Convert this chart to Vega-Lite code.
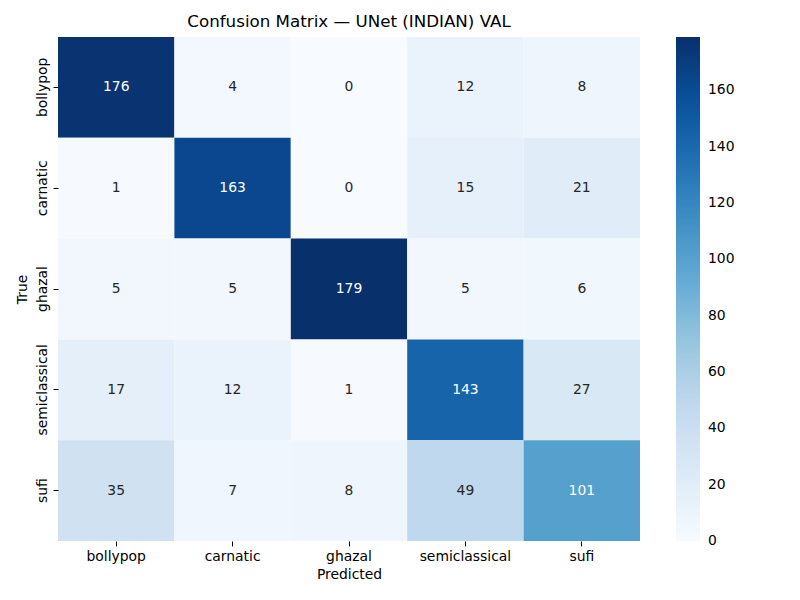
{
  "$schema": "https://vega.github.io/schema/vega-lite/v6.json",
  "autosize": {"type": "none"},
  "padding": {"left": 58, "top": 37, "right": 160, "bottom": 59},
  "width": 582,
  "height": 504,
  "background": "white",
  "title": {"text": "Confusion Matrix — UNet (INDIAN) VAL", "font": "DejaVu Sans", "fontSize": 16.7, "fontWeight": "normal", "color": "black", "offset": 6},
  "config": {"view": {"stroke": null}, "font": "DejaVu Sans"},
  "data": {"values": [
    {"t": "bollypop", "p": "bollypop", "v": 176},
    {"t": "bollypop", "p": "carnatic", "v": 4},
    {"t": "bollypop", "p": "ghazal", "v": 0},
    {"t": "bollypop", "p": "semiclassical", "v": 12},
    {"t": "bollypop", "p": "sufi", "v": 8},
    {"t": "carnatic", "p": "bollypop", "v": 1},
    {"t": "carnatic", "p": "carnatic", "v": 163},
    {"t": "carnatic", "p": "ghazal", "v": 0},
    {"t": "carnatic", "p": "semiclassical", "v": 15},
    {"t": "carnatic", "p": "sufi", "v": 21},
    {"t": "ghazal", "p": "bollypop", "v": 5},
    {"t": "ghazal", "p": "carnatic", "v": 5},
    {"t": "ghazal", "p": "ghazal", "v": 179},
    {"t": "ghazal", "p": "semiclassical", "v": 5},
    {"t": "ghazal", "p": "sufi", "v": 6},
    {"t": "semiclassical", "p": "bollypop", "v": 17},
    {"t": "semiclassical", "p": "carnatic", "v": 12},
    {"t": "semiclassical", "p": "ghazal", "v": 1},
    {"t": "semiclassical", "p": "semiclassical", "v": 143},
    {"t": "semiclassical", "p": "sufi", "v": 27},
    {"t": "sufi", "p": "bollypop", "v": 35},
    {"t": "sufi", "p": "carnatic", "v": 7},
    {"t": "sufi", "p": "ghazal", "v": 8},
    {"t": "sufi", "p": "semiclassical", "v": 49},
    {"t": "sufi", "p": "sufi", "v": 101}
  ]},
  "encoding": {
    "x": {"field": "p", "type": "nominal", "sort": ["bollypop", "carnatic", "ghazal", "semiclassical", "sufi"],
      "scale": {"paddingInner": 0, "paddingOuter": 0},
      "axis": {"title": "Predicted", "titleFontSize": 13.9, "titleFontWeight": "normal", "titleColor": "black", "titlePadding": 4, "labelAngle": 0, "labelFontSize": 13.9, "labelColor": "black", "domain": false, "tickSize": 4.9, "tickColor": "black", "labelPadding": 4}},
    "y": {"field": "t", "type": "nominal", "sort": ["bollypop", "carnatic", "ghazal", "semiclassical", "sufi"],
      "scale": {"paddingInner": 0, "paddingOuter": 0},
      "axis": {"title": "True", "titleFontSize": 13.9, "titleFontWeight": "normal", "titleColor": "black", "titlePadding": 6, "labelAngle": -90, "labelAlign": "center", "labelBaseline": "bottom", "labelFontSize": 13.9, "labelColor": "black", "domain": false, "tickSize": 4.9, "tickColor": "black", "labelPadding": 4}}
  },
  "layer": [
    {
      "mark": {"type": "rect"},
      "encoding": {
        "color": {"field": "v", "type": "quantitative",
          "scale": {"domain": [0, 22.375, 44.75, 67.125, 89.5, 111.875, 134.25, 156.625, 179],
                    "range": ["#f7fbff", "#deebf7", "#c6dbef", "#9ecae1", "#6baed6", "#4292c6", "#2171b5", "#08519c", "#08306b"]},
          "legend": {"title": null, "direction": "vertical", "gradientLength": 504, "gradientThickness": 24, "offset": 36, "labelFontSize": 13.9, "labelColor": "black", "values": [0, 20, 40, 60, 80, 100, 120, 140, 160], "labelOffset": 8, "gradientStrokeWidth": 0, "padding": 0,
            "encode": {"labels": {"update": {"baseline": {"value": "middle"}}}}}}
      }
    },
    {
      "mark": {"type": "text", "fontSize": 13.9, "font": "DejaVu Sans"},
      "encoding": {
        "text": {"field": "v", "type": "quantitative"},
        "color": {"condition": {"test": "datum.v > 90", "value": "white"}, "value": "#262626"}
      }
    }
  ]
}
